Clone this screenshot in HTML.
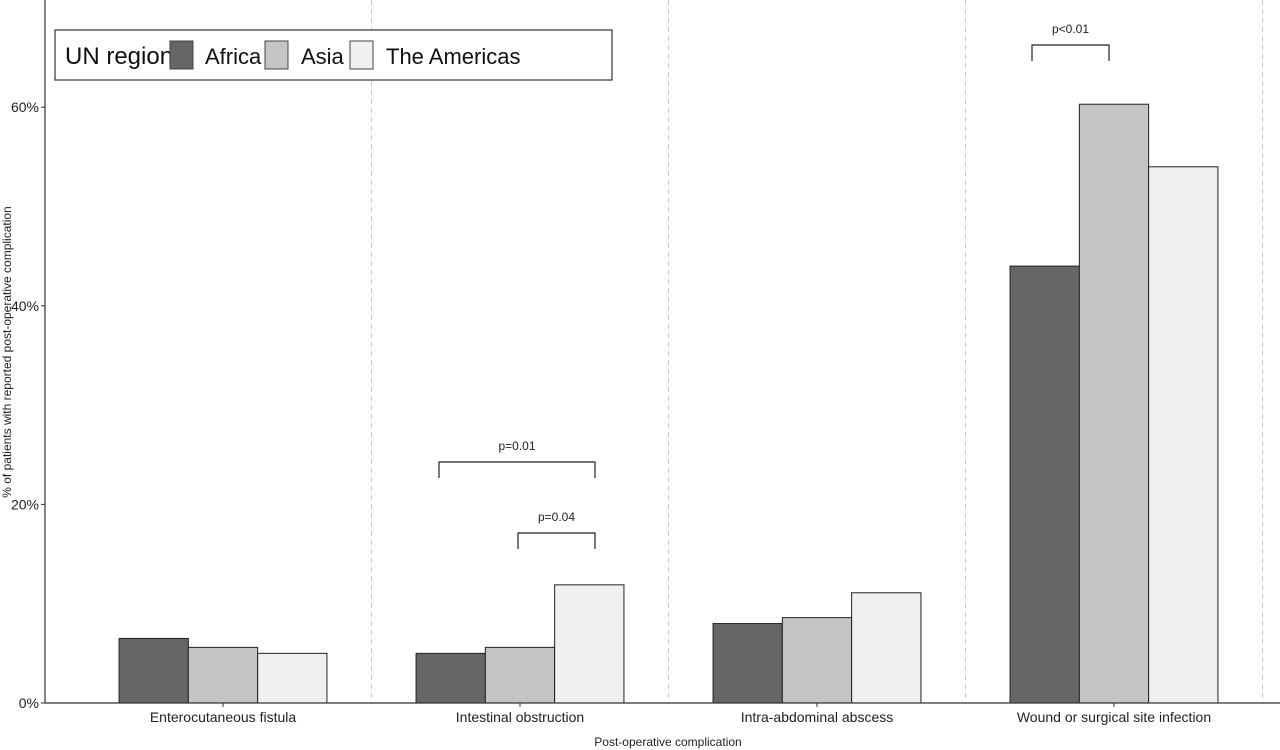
<!DOCTYPE html>
<html><head><meta charset="utf-8"><style>body{margin:0;background:#fff}svg{display:block;font-family:"Liberation Sans",sans-serif}</style></head>
<body>
<svg id="chart" width="1280" height="750" viewBox="0 0 1280 750"></svg>
<script>
const categories = ["Enterocutaneous fistula","Intestinal obstruction","Intra-abdominal abscess","Wound or surgical site infection"];
const regions = ["Africa","Asia","The Americas"];
const africa = [6.5, 5.0, 8.0, 44.0];
const asia = [5.6, 5.6, 8.6, 60.3];
const americas = [5.0, 11.9, 11.1, 54.0];
const yTicks = [0, 20, 40, 60];
const yTickLabels = ["0%","20%","40%","60%"];
const series = [africa, asia, americas];
const colors = ["#666666","#c4c4c4","#f0f0f0"];
const NS="http://www.w3.org/2000/svg";
const svg=document.getElementById('chart');
function mk(t,a,p){const e=document.createElementNS(NS,t);for(const k in a)e.setAttribute(k,a[k]);(p||svg).appendChild(e);return e;}
const x0=74.5, band=297, y0=703, pxPer=9.93;
const yS=v=>y0-v*pxPer;
const xC=i=>x0+band*(i+0.5);
// dashed separators
for(let i=0;i<categories.length;i++){
  const l=mk('line',{x1:x0+band*(i+1),x2:x0+band*(i+1),y1:0,y2:703,stroke:'#c8c8c8','stroke-dasharray':'5,4','stroke-width':1});
  
  
}
// bars
const bw=69.3;
series.forEach((s,j)=>{s.forEach((v,i)=>{
  const r=mk('rect',{x:xC(i)+(j-1.5)*bw,y:yS(v),width:bw,height:v*pxPer,fill:colors[j],stroke:'#222','stroke-width':1});
  
  
});});
// axes
mk('line',{x1:45,x2:45,y1:0,y2:703,stroke:'#333','stroke-width':1.2});
mk('line',{x1:45,x2:1280,y1:703,y2:703,stroke:'#333','stroke-width':1.2});
yTicks.forEach((t,i)=>{
  mk('line',{x1:41,x2:45,y1:yS(t),y2:yS(t),stroke:'#333'});
  const tx=mk('text',{x:39,y:yS(t)+5,'text-anchor':'end','font-size':14,fill:'#222'});tx.textContent=yTickLabels[i];
  
});
categories.forEach((c,i)=>{
  mk('line',{x1:xC(i),x2:xC(i),y1:703,y2:707,stroke:'#333'});
  const tx=mk('text',{x:xC(i),y:722,'text-anchor':'middle','font-size':14,fill:'#222'});tx.textContent=c;
  
});
const xt=mk('text',{x:668,y:746,'text-anchor':'middle','font-size':12,fill:'#222'});xt.textContent='Post-operative complication';

const yt=mk('text',{x:0,y:0,'text-anchor':'middle','font-size':12,fill:'#222',transform:'translate(11,352) rotate(-90)'});yt.textContent='% of patients with reported post-operative complication';

// significance brackets
const brackets=[{g:1,a:-81,b:75,y:462,t:'p=0.01'},{g:1,a:-2,b:75,y:533,t:'p=0.04'},{g:3,a:-82,b:-5,y:45,t:'p<0.01'}];
brackets.forEach(k=>{
  const x1=xC(k.g)+k.a,x2=xC(k.g)+k.b;
  const p=mk('path',{d:`M${x1},${k.y+16}V${k.y}H${x2}V${k.y+16}`,fill:'none',stroke:'#222','stroke-width':1.2});
  
  const tx=mk('text',{x:(x1+x2)/2,y:k.y-12,'text-anchor':'middle','font-size':12,fill:'#222'});tx.textContent=k.t;
  
});
// legend
const lg=mk('g',{});
mk('rect',{x:55,y:30,width:557,height:50,fill:'#fff',stroke:'#333','stroke-width':1.2},lg);
const lt=mk('text',{x:65,y:64,'font-size':24,fill:'#111'},lg);lt.textContent='UN region';
const kx=[170,265,350],tx2=[205,301,386];
regions.forEach((r,j)=>{
  const k=mk('rect',{x:kx[j],y:41,width:23,height:28,fill:colors[j],stroke:'#444'},lg);
  
  const t=mk('text',{x:tx2[j],y:64,'font-size':22,fill:'#111'},lg);t.textContent=r;
  
});
</script>
</body></html>
